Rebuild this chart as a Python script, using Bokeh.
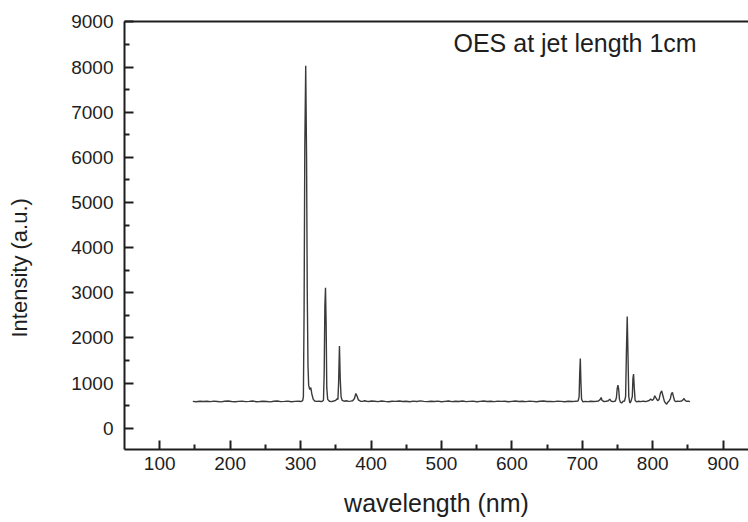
import math
from bokeh.plotting import figure
from bokeh.models import Range1d, FixedTicker, LinearAxis, Label, ColumnDataSource, Title
from bokeh.embed import file_html
from bokeh.resources import INLINE

# ---------------- data ----------------
wavelength = [
    147, 152, 157, 162, 167, 172, 177, 182, 187, 192, 197, 202, 207, 212, 217, 222,
    227, 232, 237, 242, 247, 252, 257, 262, 267, 272, 277, 282, 287, 292, 297, 301, 303,
    304, 305, 306, 307.3, 308.5, 309.5, 310.5, 311.5, 313, 314.5, 316, 318, 320, 323,
    326, 329, 331, 332.5,
    333.5, 334.5, 335.4, 336.3, 337.2, 338.5, 341, 344, 347, 350, 351.5, 353,
    354, 355.2, 356.3, 357.5, 359, 362, 365, 368, 371, 374, 376.5, 378.5, 380, 382,
    385, 388, 391, 394, 397, 400,
    405, 410, 415, 420, 425, 430, 435, 440, 445, 450,
    455, 460, 465, 470, 475, 480, 485, 490, 495, 500,
    505, 510, 515, 520, 525, 530, 535, 540, 545, 550,
    555, 560, 565, 570, 575, 580, 585, 590, 595, 600,
    605, 610, 615, 620, 625, 630, 635, 640, 645, 650,
    655, 660, 665, 670, 675, 680, 685, 690,
    694, 695.5, 696.3, 697.2, 698.1, 699, 701, 704, 708, 712, 716, 720, 723, 725.5,
    726.8, 728, 731, 734, 737, 739, 741, 744, 747,
    748.5, 749.5, 750.6, 751.7, 752.8, 754, 756, 758, 760, 761.5, 762.8, 763.8, 764.8,
    766, 767.5, 769, 771, 771.9, 772.8, 773.8, 775, 777,
    780, 783, 786, 789, 792, 795, 797, 799, 801, 803, 805, 807, 809, 811, 812.7, 814.5,
    816.5, 818, 819.8, 821.5, 823, 825, 826.5, 828, 829.5, 831, 833, 835, 838, 841,
    843, 844.5, 846, 848, 850.5, 853,
]
intensity = [
    595, 588, 600, 592, 598, 590, 602, 594, 586, 598, 604, 592, 588, 597, 601, 590,
    596, 603, 589, 594, 600, 593, 586, 598, 604, 591, 595, 602, 588, 596, 600, 594, 610,
    700, 2600, 6200, 8030, 6000, 3000, 1400, 950, 860, 900, 760, 640, 605, 596,
    602, 594, 600, 620,
    1200, 2700, 3110, 2300, 900, 640, 598, 590, 604, 620, 650, 640,
    1000, 1820, 1100, 700, 620, 600, 610, 595, 602, 610, 660, 770, 720, 630,
    600, 596, 610, 600, 592, 605,
    598, 590, 603, 595, 588, 600, 596, 604, 592, 598,
    589, 601, 594, 606, 597, 590, 600, 594, 602, 588,
    596, 604, 591, 598, 593, 605, 590, 597, 601, 588,
    596, 603, 592, 598, 590, 602, 595, 600, 588, 597,
    604, 592, 598, 590, 601, 596, 588, 600, 604, 592,
    597, 590, 602, 596, 588, 600, 594, 598,
    602, 700, 1200, 1545, 1000, 640, 585, 595, 590, 600, 593, 598, 605, 640,
    682, 620, 592, 600, 610, 646, 600, 590, 605,
    680, 870, 956, 860, 640, 580, 560, 600, 605, 700, 1800, 2476, 1700,
    700, 560, 590, 700, 1100, 1200, 900, 620, 585,
    598, 590, 602, 594, 600, 615, 646, 620, 640, 720, 660, 610, 640, 780, 830, 720,
    600, 560, 535, 580, 600, 650, 760, 793, 700, 610, 590, 600, 595, 605,
    630, 660, 620, 595, 600, 590,
]
assert len(wavelength) == len(intensity)

x_ticks = [100, 200, 300, 400, 500, 600, 700, 800, 900]
x_minor_ticks = [150, 250, 350, 450, 550, 650, 750, 850]
y_ticks = [0, 1000, 2000, 3000, 4000, 5000, 6000, 7000, 8000, 9000]
y_minor_ticks = [500, 1500, 2500, 3500, 4500, 5500, 6500, 7500, 8500]

title_text = "OES at jet length 1cm"
x_title = "wavelength (nm)"
y_title = "Intensity (a.u.)"

# ---------------- figure ----------------
FONT = "Liberation Sans"
INK = "#1e1e1e"

p = figure(
    width=748, height=522,
    output_backend="svg", toolbar_location=None,
    x_range=Range1d(50, 936), y_range=Range1d(-470, 9010),
    min_border_left=124, min_border_right=0, min_border_top=21, min_border_bottom=73,
    background_fill_color="white", border_fill_color="white",
)
p.outline_line_color = None
p.grid.visible = False

src = ColumnDataSource(data=dict(x=wavelength, y=intensity))
p.line("x", "y", source=src, line_color="#3a3a3a", line_width=1.4)

def style_axis(ax):
    ax.axis_line_color = INK
    ax.axis_line_width = 2
    ax.major_tick_line_color = INK
    ax.major_tick_line_width = 2
    ax.minor_tick_line_color = INK
    ax.minor_tick_line_width = 2
    ax.major_tick_in = 9
    ax.major_tick_out = 0
    ax.minor_tick_in = 5
    ax.minor_tick_out = 0
    ax.major_label_text_font = FONT
    ax.major_label_text_font_size = "19px"
    ax.major_label_text_color = INK

xa = p.xaxis[0]
xa.ticker = FixedTicker(ticks=x_ticks, minor_ticks=x_minor_ticks)
style_axis(xa)
xa.major_label_standoff = 7
xa.axis_label = x_title
xa.axis_label_standoff = 16
xa.axis_label_text_font = FONT
xa.axis_label_text_font_size = "25px"
xa.axis_label_text_font_style = "normal"
xa.axis_label_text_color = INK

ya = p.yaxis[0]
ya.ticker = FixedTicker(ticks=y_ticks, minor_ticks=y_minor_ticks)
style_axis(ya)
ya.major_label_standoff = 11
# spacer so that the y title sits at the far left edge
ya.axis_label = " "
ya.axis_label_text_font_size = "1px"
ya.axis_label_standoff = 25

top_axis = LinearAxis(ticker=FixedTicker(ticks=[]), major_label_text_font_size="0px",
                      axis_line_color=INK, axis_line_width=2,
                      major_tick_in=0, major_tick_out=0, minor_tick_in=0, minor_tick_out=0)
p.add_layout(top_axis, "above")

p.add_layout(Label(x=329, y=407, x_units="screen", y_units="screen", text=title_text,
                   text_font=FONT, text_font_size="25px", text_color=INK,
                   text_align="left", text_baseline="alphabetic"))

yt = Title(text=y_title, align="left", offset=112, standoff=12, vertical_align="top",
           text_font=FONT, text_font_size="22px", text_color=INK, text_font_style="normal")
p.add_layout(yt, "left")

open("out.html", "w").write(file_html(p, INLINE))
